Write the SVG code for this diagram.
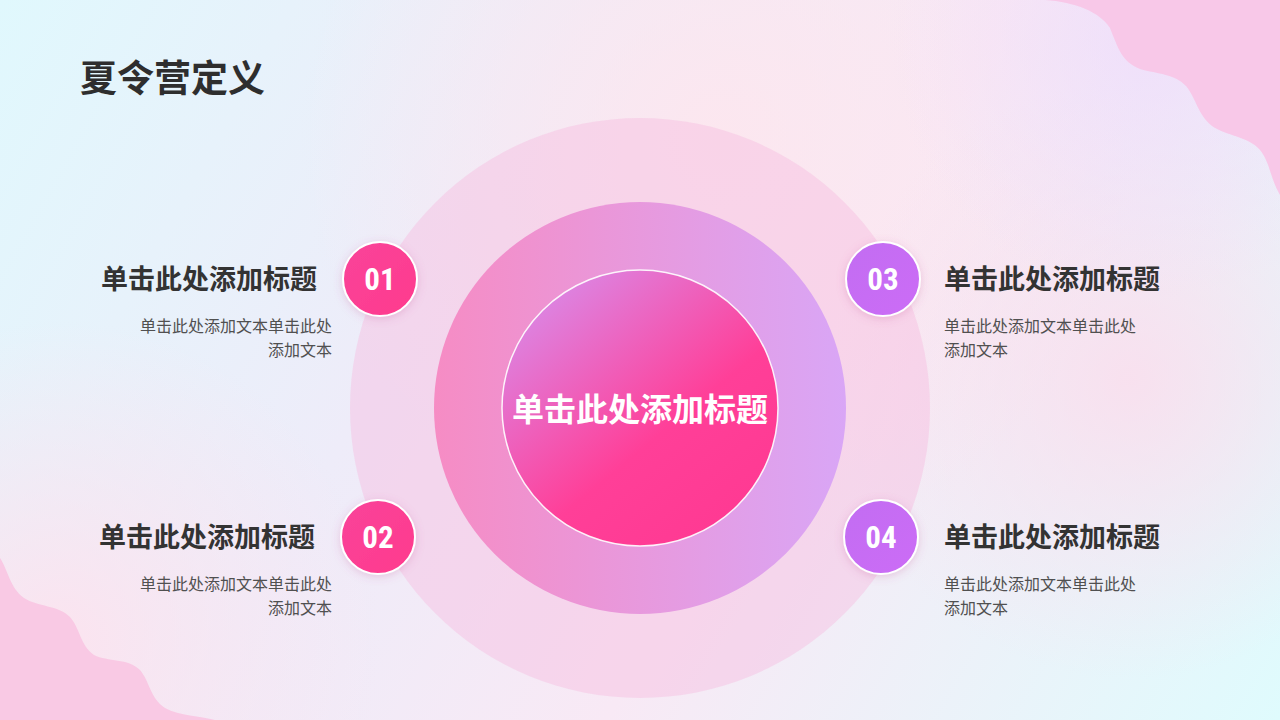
<svg xmlns="http://www.w3.org/2000/svg" width="1280" height="720" viewBox="0 0 1280 720">
  <defs>
    <linearGradient id="bg" x1="0" y1="0" x2="1280" y2="720" gradientUnits="userSpaceOnUse">
      <stop offset="0" stop-color="#e0f8fd"/>
      <stop offset="0.35" stop-color="#eeecf9"/>
      <stop offset="0.6" stop-color="#f8e9f5"/>
      <stop offset="1" stop-color="#dffbfd"/>
    </linearGradient>
    <radialGradient id="glow1" cx="720" cy="140" r="420" gradientUnits="userSpaceOnUse">
      <stop offset="0" stop-color="#fde6ee" stop-opacity="0.9"/>
      <stop offset="1" stop-color="#fde6ee" stop-opacity="0"/>
    </radialGradient>
    <radialGradient id="glow2" cx="1130" cy="380" r="300" gradientUnits="userSpaceOnUse">
      <stop offset="0" stop-color="#fbdcec" stop-opacity="0.8"/>
      <stop offset="1" stop-color="#fbdcec" stop-opacity="0"/>
    </radialGradient>
    <radialGradient id="glow3" cx="60" cy="640" r="320" gradientUnits="userSpaceOnUse">
      <stop offset="0" stop-color="#fde2ee" stop-opacity="0.9"/>
      <stop offset="1" stop-color="#fde2ee" stop-opacity="0"/>
    </radialGradient>
    <radialGradient id="glow4" cx="1150" cy="40" r="260" gradientUnits="userSpaceOnUse">
      <stop offset="0" stop-color="#efdcfb" stop-opacity="0.8"/>
      <stop offset="1" stop-color="#efdcfb" stop-opacity="0"/>
    </radialGradient>
    <linearGradient id="mid" x1="434" y1="0" x2="846" y2="0" gradientUnits="userSpaceOnUse">
      <stop offset="0" stop-color="#f68cc4"/>
      <stop offset="1" stop-color="#d9a6f6"/>
    </linearGradient>
    <linearGradient id="inner" x1="530" y1="290" x2="720" y2="520" gradientUnits="userSpaceOnUse">
      <stop offset="0" stop-color="#d98ae8"/>
      <stop offset="0.65" stop-color="#ff3f98"/>
      <stop offset="1" stop-color="#ff3a93"/>
    </linearGradient>
    <linearGradient id="pinkB" x1="0" y1="0" x2="1" y2="1">
      <stop offset="0" stop-color="#f9449a"/>
      <stop offset="1" stop-color="#ff3a8d"/>
    </linearGradient>
    <linearGradient id="purpB" x1="0" y1="0" x2="1" y2="1">
      <stop offset="0" stop-color="#c26df2"/>
      <stop offset="1" stop-color="#cc6cf6"/>
    </linearGradient>
    <filter id="sh" x="-30%" y="-30%" width="160%" height="160%">
      <feDropShadow dx="0" dy="2" stdDeviation="4" flood-color="#c05090" flood-opacity="0.25"/>
    </filter>
    <style>
      .ttl{font-family:"Liberation Sans","Noto Sans CJK SC",sans-serif;font-weight:bold;fill:#2e2e2e;}
      .h{font-family:"Liberation Sans","Noto Sans CJK SC",sans-serif;font-weight:bold;font-size:27px;fill:#333333;}
      .d{font-family:"Liberation Sans","Noto Sans CJK SC",sans-serif;font-size:16px;fill:#505050;}
      .num{font-family:"Liberation Sans Narrow","Roboto Condensed",Roboto,sans-serif;font-weight:bold;font-size:31px;fill:#ffffff;text-anchor:middle;}
      .badge{stroke:#ffffff;stroke-width:2;filter:url(#sh);}
      .r{text-anchor:end;}
    </style>
  </defs>

  <!-- background -->
  <rect width="1280" height="720" fill="url(#bg)"/>
  <rect width="1280" height="720" fill="url(#glow1)"/>
  <rect width="1280" height="720" fill="url(#glow2)"/>
  <rect width="1280" height="720" fill="url(#glow3)"/>
  <rect width="1280" height="720" fill="url(#glow4)"/>

  <!-- decorative waves -->
  <path d="M1045,0 C1075,2 1100,12 1110,28 C1118,48 1122,62 1140,69 C1158,74 1175,74 1186,86 C1196,98 1198,115 1212,126 C1226,136 1248,136 1260,150 C1270,162 1270,178 1280,195 L1280,0 Z" fill="#f8c8e8"/>
  <path d="M0,558 C8,570 10,588 24,598 C38,607 58,605 70,617 C80,628 80,645 94,655 C108,662 128,658 140,670 C150,682 150,698 165,708 C180,716 200,716 215,720 L0,720 Z" fill="#f9c9e4"/>

  <!-- title -->
  <text class="ttl" x="80" y="92" font-size="37">夏令营定义</text>

  <!-- central rings -->
  <g id="center">
    <circle cx="640" cy="408" r="290" fill="#f7bde0" fill-opacity="0.45"/>
    <circle cx="640" cy="408" r="206" fill="url(#mid)"/>
    <circle cx="640" cy="408" r="138" fill="url(#inner)" stroke="#ffffff" stroke-opacity="0.9" stroke-width="1.5"/>
    <text x="640" y="421" text-anchor="middle" font-family="Liberation Sans,Noto Sans CJK SC,sans-serif" font-weight="bold" font-size="32" fill="#ffffff">单击此处添加标题</text>
  </g>

  <!-- item 01 -->
  <g id="item01">
    <circle class="badge" cx="380" cy="279" r="37" fill="url(#pinkB)"/>
    <text class="num" x="380" y="290">01</text>
    <text class="h r" x="317" y="289">单击此处添加标题</text>
    <text class="d r" x="332" y="332">单击此处添加文本单击此处</text>
    <text class="d r" x="332" y="356">添加文本</text>
  </g>

  <!-- item 02 -->
  <g id="item02">
    <circle class="badge" cx="378" cy="537" r="37" fill="url(#pinkB)"/>
    <text class="num" x="378" y="548">02</text>
    <text class="h r" x="315" y="547">单击此处添加标题</text>
    <text class="d r" x="332" y="590">单击此处添加文本单击此处</text>
    <text class="d r" x="332" y="614">添加文本</text>
  </g>

  <!-- item 03 -->
  <g id="item03">
    <circle class="badge" cx="883" cy="279" r="37" fill="url(#purpB)"/>
    <text class="num" x="883" y="290">03</text>
    <text class="h" x="944" y="289">单击此处添加标题</text>
    <text class="d" x="944" y="332">单击此处添加文本单击此处</text>
    <text class="d" x="944" y="356">添加文本</text>
  </g>

  <!-- item 04 -->
  <g id="item04">
    <circle class="badge" cx="881" cy="537" r="37" fill="url(#purpB)"/>
    <text class="num" x="881" y="548">04</text>
    <text class="h" x="944" y="547">单击此处添加标题</text>
    <text class="d" x="944" y="590">单击此处添加文本单击此处</text>
    <text class="d" x="944" y="614">添加文本</text>
  </g>

  <g id="connectors"/>
</svg>
